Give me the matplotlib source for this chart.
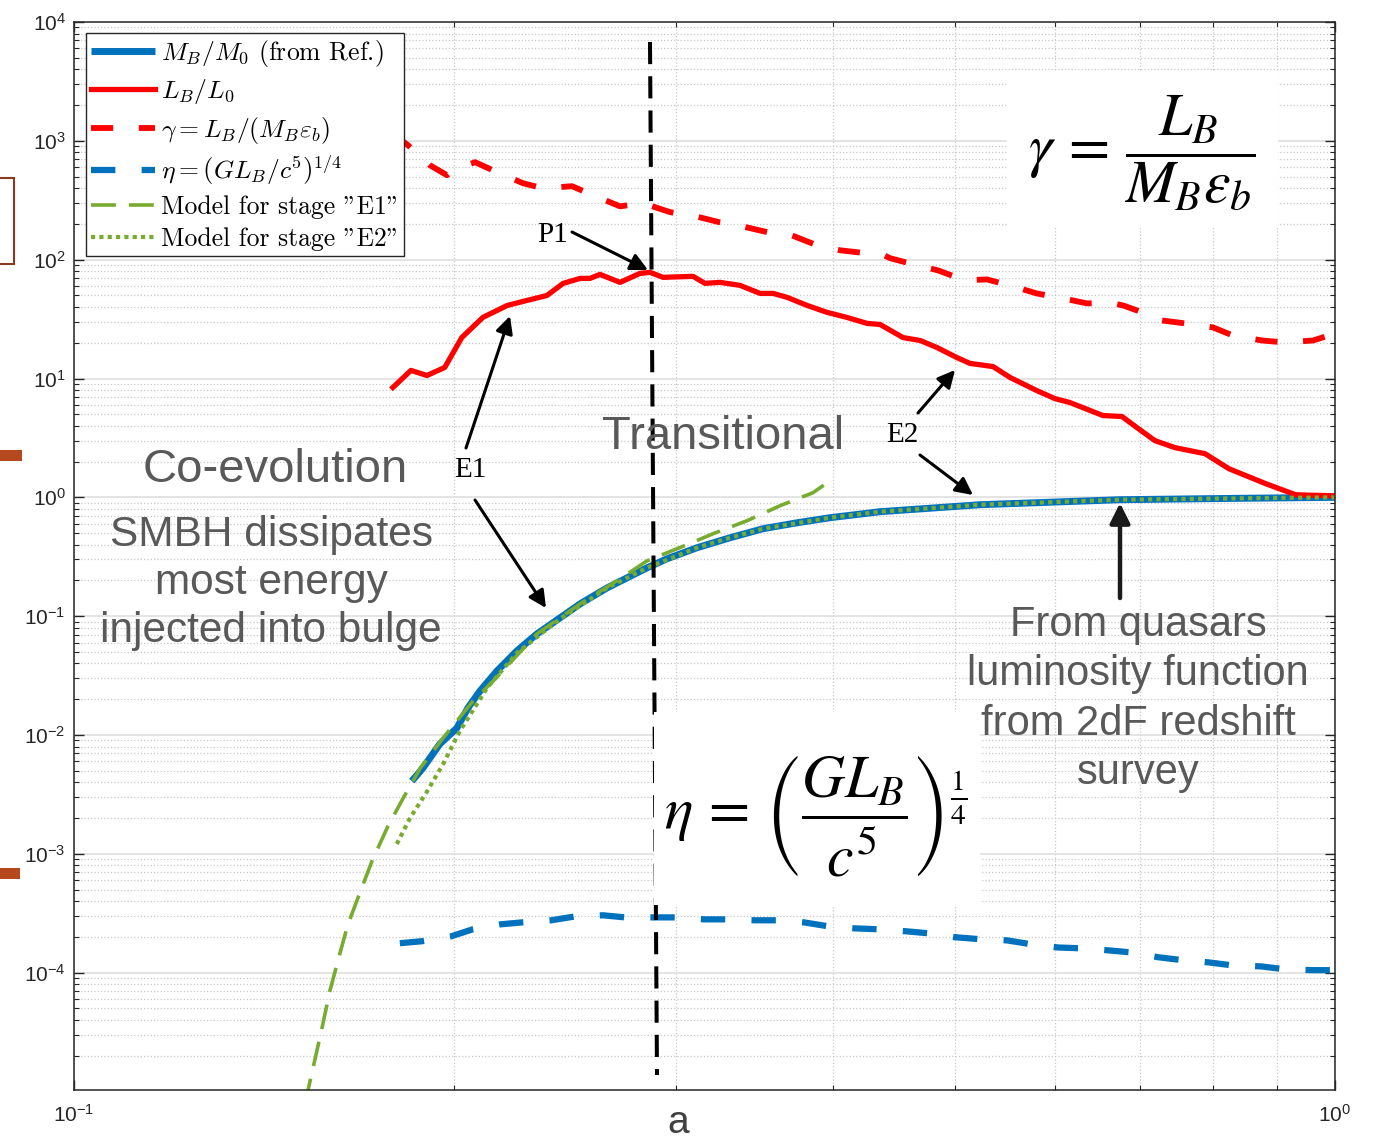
import numpy as np
import matplotlib.pyplot as plt
from matplotlib.patches import Rectangle
from matplotlib.lines import Line2D
from matplotlib.ticker import LogLocator, NullFormatter
from matplotlib.font_manager import FontProperties

plt.rcParams['font.family'] = ['Liberation Sans', 'DejaVu Sans']
plt.rcParams['mathtext.fontset'] = 'cm'

W, H = 1381, 1139

# bulge mass M_B/M_0 (from Ref.)
a_mass = [0.1853, 0.1891, 0.195, 0.2012, 0.2053, 0.2099, 0.2165, 0.2245, 0.2329, 0.2429,
          0.252, 0.2647, 0.2745, 0.2847, 0.2953, 0.312, 0.3313, 0.352, 0.3745, 0.3977,
          0.4357, 0.5231, 0.6752, 0.83, 1.0]
mass = [4.09e-3, 5.27e-3, 8.39e-3, 1.145e-2, 1.69e-2, 2.35e-2, 3.46e-2, 5.10e-2, 7.10e-2, 9.68e-2,
        0.127, 0.173, 0.210, 0.255, 0.304, 0.377, 0.457, 0.545, 0.611, 0.674,
        0.757, 0.867, 0.955, 0.98, 1.0]

# bulge luminosity L_B/L_0
a_lum = [0.179, 0.185, 0.1905, 0.1968, 0.203, 0.211, 0.2206, 0.2287, 0.2372, 0.2443,
         0.252, 0.2566, 0.2613, 0.271, 0.2811, 0.2863, 0.2932, 0.3097, 0.3165, 0.3253,
         0.3374, 0.350, 0.3584, 0.3677, 0.3814, 0.3956, 0.410, 0.4255, 0.4357, 0.4544,
         0.4688, 0.4836, 0.5014, 0.5135, 0.5356, 0.5525, 0.580, 0.5995, 0.6162, 0.6546,
         0.6777, 0.6966, 0.7198, 0.7466, 0.7887, 0.824, 0.8817, 0.931, 1.0]
lum = [8.4, 11.7, 10.6, 12.4, 22.1, 32.7, 41.2, 45.4, 50.0, 63.2,
       69.6, 69.6, 75.2, 64.4, 76.7, 78.2, 71.0, 72.4, 63.2, 64.4,
       60.8, 52.0, 52.0, 48.2, 41.2, 36.0, 32.7, 29.1, 28.5, 22.1,
       20.9, 18.2, 15.0, 13.4, 12.6, 10.2, 7.92, 6.78, 6.28, 4.88,
       4.79, 3.86, 3.00, 2.62, 2.33, 1.74, 1.30, 1.05, 1.03]

# gamma = L_B / (M_B eps_b)
a_gamma = [0.179, 0.184, 0.1915, 0.1976, 0.1995, 0.208, 0.2165, 0.227, 0.2354, 0.2483,
           0.258, 0.271, 0.2826, 0.297, 0.309, 0.3253, 0.3386, 0.355, 0.371, 0.3884,
           0.405, 0.4255, 0.4357, 0.4437, 0.4662, 0.4843, 0.5087, 0.5297, 0.5555, 0.580,
           0.6084, 0.6357, 0.6667, 0.679, 0.6966, 0.7291, 0.7603, 0.8004, 0.83, 0.875,
           0.9126, 0.961, 1.0]
gamma = [1150, 919, 624, 514, 566, 661, 545, 440, 399, 415,
         349, 281, 299, 251, 236, 206, 191, 170, 160, 132,
         120, 113, 113, 103, 89.6, 81.3, 67.0, 68.2, 59.6, 52.0,
         47.2, 42.9, 42.9, 41.2, 37.4, 30.8, 29.1, 26.9, 23.0, 20.9,
         20.1, 20.9, 23.9]

# eta = (G L_B / c^5)^(1/4)
a_eta = [0.1813, 0.1888, 0.199, 0.2072, 0.2177, 0.2266, 0.239, 0.250, 0.2628, 0.2735,
         0.2873, 0.300, 0.316, 0.3283, 0.3467, 0.3617, 0.3793, 0.397, 0.4163, 0.434,
         0.457, 0.4774, 0.4994, 0.524, 0.5495, 0.5751, 0.603, 0.6324, 0.6619, 0.690,
         0.7238, 0.7591, 0.7946, 0.83, 0.8735, 0.9112, 0.959, 1.0]
eta = [1.77e-4, 1.84e-4, 2.02e-4, 2.32e-4, 2.55e-4, 2.65e-4, 2.76e-4, 2.98e-4, 3.04e-4, 2.92e-4,
       2.92e-4, 2.92e-4, 2.81e-4, 2.81e-4, 2.76e-4, 2.76e-4, 2.65e-4, 2.45e-4, 2.36e-4, 2.32e-4,
       2.23e-4, 2.14e-4, 1.99e-4, 1.91e-4, 1.87e-4, 1.73e-4, 1.63e-4, 1.60e-4, 1.54e-4, 1.48e-4,
       1.35e-4, 1.27e-4, 1.22e-4, 1.15e-4, 1.13e-4, 1.07e-4, 1.05e-4, 1.05e-4]

# model for stage E1
a_e1 = [0.1525, 0.157, 0.1596, 0.1622, 0.1649, 0.1692, 0.1723, 0.1774, 0.1824, 0.1882,
        0.1962, 0.2072, 0.215, 0.2329, 0.252, 0.271, 0.2847, 0.3022, 0.3212, 0.3418,
        0.3631, 0.3855, 0.3999]
model_e1 = [8.0e-6, 3.14e-5, 7.10e-5, 1.35e-4, 2.55e-4, 5.24e-4, 8.67e-4, 1.71e-3, 2.94e-3, 5.27e-3,
            9.44e-3, 1.93e-2, 2.85e-2, 7.1e-2, 0.127, 0.206, 0.292, 0.377, 0.494, 0.636,
            0.851, 1.094, 1.435]

# model for stage E2
a_e2 = [0.1803, 0.1847, 0.1906, 0.1962, 0.2023, 0.2126, 0.2245, 0.2429, 0.2647, 0.2847,
        0.312, 0.3313, 0.352, 0.3977, 0.4357, 0.5231, 0.6752, 0.83, 1.0]
model_e2 = [1.21e-3, 2.0e-3, 3.37e-3, 5.70e-3, 1.08e-2, 2.49e-2, 4.9e-2, 9.5e-2, 0.173, 0.255,
            0.377, 0.457, 0.545, 0.674, 0.757, 0.867, 0.955, 0.98, 1.0]

BLUE = '#0072BD'
RED = '#FF0000'
GREEN = '#77AC30'
GREY = '#595959'
AX = '#262626'


def fp(x, y):
    # pixel position on the canvas -> figure fraction
    return (x / W, 1 - y / H)


fig = plt.figure(figsize=(W / 100, H / 100), dpi=100)
ax = fig.add_axes([74 / W, 49 / H, 1261 / W, 1068 / H])

l1, = ax.plot(a_mass, mass, color=BLUE, lw=5, solid_capstyle='butt', zorder=2)
l2, = ax.plot(a_lum, lum, color=RED, lw=3.8, zorder=2)
l3, = ax.plot(a_gamma, gamma, color=RED, lw=4.2, dashes=(3.8, 4.4), zorder=2)
l4, = ax.plot(a_eta, eta, color=BLUE, lw=4.5, dashes=(3.9, 4.2), zorder=2)
l5, = ax.plot(a_e1, model_e1, color=GREEN, lw=2.6, dashes=(6.9, 3.6), zorder=2.1)
l6, = ax.plot(a_e2, model_e2, color=GREEN, lw=3, dashes=(1, 1), zorder=2.2)

ax.set_xscale('log')
ax.set_yscale('log')
ax.set_xlim(0.1, 1)
ax.set_ylim(1.03e-5, 1e4)

ax.xaxis.set_major_locator(LogLocator(base=10, numticks=5))
ax.xaxis.set_minor_locator(LogLocator(base=10, subs=np.arange(2, 10), numticks=20))
ax.yaxis.set_major_locator(LogLocator(base=10, numticks=20))
ax.yaxis.set_minor_locator(LogLocator(base=10, subs=np.arange(2, 10), numticks=100))
ax.xaxis.set_minor_formatter(NullFormatter())
ax.yaxis.set_minor_formatter(NullFormatter())

ax.tick_params(which='both', direction='in', top=True, right=True, color=AX,
               labelcolor=AX, labelsize=15)
ax.tick_params(which='major', length=7, width=1)
ax.tick_params(which='minor', length=3.5, width=0.8)
ax.tick_params(axis='x', which='major', pad=10)
ax.tick_params(axis='y', which='major', pad=6)
for s in ax.spines.values():
    s.set_color(AX)
    s.set_linewidth(1.1)

ax.set_axisbelow(True)
ax.grid(which='major', color='#dcdcdc', lw=1.1, ls='-')
ax.grid(which='minor', color='#c8c8c8', lw=0.9, ls=':')

ax.set_xlabel('a', fontsize=28, color='#404040')
ax.xaxis.set_label_coords((678 - 74) / 1261, -0.014)

# white panels behind the two formulas
ax.add_patch(Rectangle(fp(1007, 228), 271 / W, 156 / H, transform=fig.transFigure,
                       facecolor='white', edgecolor='none', zorder=4))
ax.add_patch(Rectangle(fp(654, 905), 326 / W, 193 / H, transform=fig.transFigure,
                       facecolor='white', edgecolor='none', zorder=4))

# boundary between the two stages
ax.add_line(Line2D([650 / W, 657 / W], [1 - 42 / H, 1 - 1075 / H], transform=fig.transFigure,
                   color='black', lw=2.9, dashes=(5.5, 3), zorder=3))

leg = ax.legend([l1, l2, l3, l4, l5, l6],
                [r'$M_B/M_0$ (from Ref.)', r'$L_B/L_0$', r'$\gamma=L_B/(M_B\varepsilon_b)$',
                 r'$\eta=\left(GL_B/c^5\right)^{1/4}$', 'Model for stage "E1"',
                 'Model for stage "E2"'],
                loc='upper left', bbox_to_anchor=fp(86, 33), bbox_transform=fig.transFigure,
                prop=FontProperties(family=['cmr10', 'DejaVu Serif'], size=18.5),
                frameon=True, fancybox=False, framealpha=1, edgecolor=AX,
                handlelength=2.5, handletextpad=0.2, labelspacing=0.32, borderpad=0.2,
                borderaxespad=0)
leg.get_frame().set_linewidth(1.0)
leg.set_zorder(6)

# formulas
fig.text(*fp(1142, 153), r'$\gamma\,=\,\dfrac{L_B}{M_B\varepsilon_b}$', fontsize=43,
         math_fontfamily='stix', ha='center', va='center', zorder=7)
fig.text(*fp(816, 815), r'$\eta\,=\,\left(\dfrac{GL_B}{c^5}\right)^{\frac{1}{4}}$', fontsize=43,
         math_fontfamily='stix', ha='center', va='center', zorder=7)

# stage descriptions
fig.text(*fp(275, 470), 'Co-evolution', fontsize=34, color=GREY, ha='center', va='center')
fig.text(*fp(271, 583), 'SMBH dissipates\nmost energy\ninjected into bulge', fontsize=30.5,
         color=GREY, ha='center', va='center', linespacing=1.27)
fig.text(*fp(723, 437), 'Transitional', fontsize=34, color=GREY, ha='center', va='center')
fig.text(*fp(1138, 699), 'From quasars\nluminosity function\nfrom 2dF redshift\nsurvey',
         fontsize=30, color=GREY, ha='center', va='center', linespacing=1.3)

# point and stage markers
serif = ['Liberation Serif', 'DejaVu Serif']
fig.text(*fp(553, 235), 'P1', fontsize=21, family=serif, ha='center', va='center')
fig.text(*fp(470, 470), 'E1', fontsize=21, family=serif, ha='center', va='center')
fig.text(*fp(902, 435), 'E2', fontsize=21, family=serif, ha='center', va='center')

arrows = [((572, 232), (648, 270)),
          ((466, 448), (510, 316)),
          ((475, 500), (546, 608)),
          ((918, 413), (955, 370)),
          ((920, 455), (973, 495))]
for start, end in arrows:
    ax.annotate('', xy=fp(*end), xytext=fp(*start), xycoords='figure fraction',
                textcoords='figure fraction',
                arrowprops=dict(arrowstyle='-|>', color='black', lw=2.2, mutation_scale=26,
                                shrinkA=0, shrinkB=0), zorder=8)
ax.annotate('', xy=fp(1120, 503), xytext=fp(1120, 598), xycoords='figure fraction',
            textcoords='figure fraction',
            arrowprops=dict(arrowstyle='-|>', color='#1a1a1a', lw=3.2, mutation_scale=30,
                            shrinkA=0, shrinkB=0), zorder=8)

# slide fragments at the left edge
fig.patches.append(Rectangle(fp(-10, 264), 24 / W, 86 / H, transform=fig.transFigure,
                             facecolor='none', edgecolor='#8B3A1E', lw=1.5))
fig.patches.append(Rectangle(fp(0, 461), 22 / W, 11 / H, transform=fig.transFigure,
                             facecolor='#B5481F', edgecolor='none'))
fig.patches.append(Rectangle(fp(0, 879), 20 / W, 11 / H, transform=fig.transFigure,
                             facecolor='#B5481F', edgecolor='none'))

fig.savefig('out.png', dpi=100, facecolor='white')
